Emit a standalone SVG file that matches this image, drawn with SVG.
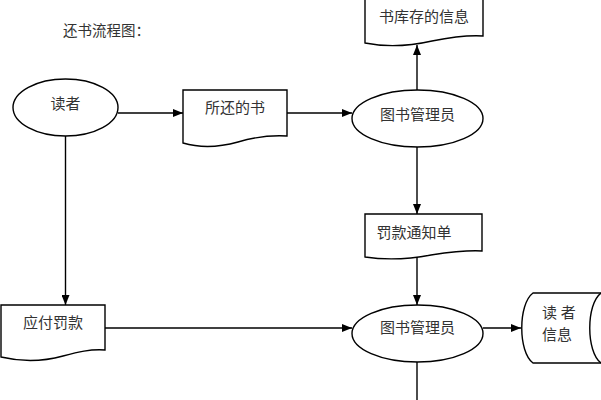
<svg xmlns="http://www.w3.org/2000/svg" width="601" height="400" viewBox="0 0 601 400">
<defs>
<marker id="arr" markerWidth="10" markerHeight="8" refX="10" refY="4" orient="auto" markerUnits="userSpaceOnUse">
<path d="M0,0 L10,4 L0,8 Z" fill="#000"/>
</marker>
<style>
.shape{fill:#fff;stroke:#000;stroke-width:1.4}
.line{fill:none;stroke:#000;stroke-width:1.4}
text{font-family:"Liberation Serif","Noto Sans CJK SC",serif;font-size:15px;fill:#333}
.c{text-anchor:middle}
</style>
</defs>
<rect width="601" height="400" fill="#fff"/>
<text id="title" x="63" y="36" style="font-size:14.5px">还书流程图：</text>
<g id="connectors">
<line class="line" x1="118" y1="113" x2="183" y2="113" marker-end="url(#arr)"/>
<line class="line" x1="287" y1="113" x2="352" y2="113" marker-end="url(#arr)"/>
<line class="line" x1="417" y1="90" x2="417" y2="45" marker-end="url(#arr)"/>
<line class="line" x1="417" y1="147" x2="417" y2="214" marker-end="url(#arr)"/>
<line class="line" x1="417" y1="257" x2="417" y2="305" marker-end="url(#arr)"/>
<line class="line" x1="65.5" y1="136" x2="65.5" y2="305" marker-end="url(#arr)"/>
<line class="line" x1="105" y1="328" x2="352" y2="328" marker-end="url(#arr)"/>
<line class="line" x1="483" y1="328" x2="521" y2="328" marker-end="url(#arr)"/>
<line class="line" x1="417" y1="362" x2="417" y2="400"/>
</g>
<g id="reader">
<ellipse class="shape" cx="65.5" cy="107.5" rx="52.5" ry="28.5"/>
<text class="c" x="65.5" y="109">读者</text>
</g>
<g id="returned-books">
<path class="shape" d="M183,90 H287 V136 C270,135 255,137 238,142 C220,147 200,148 183,143 Z"/>
<text class="c" x="235" y="113">所还的书</text>
</g>
<g id="librarian1">
<ellipse class="shape" cx="417.5" cy="118.5" rx="65.5" ry="28.5"/>
<text class="c" x="417.5" y="120">图书管理员</text>
</g>
<g id="stock-info">
<path class="shape" d="M365,-1 H483 V36 C467,35 452,37 432,41 C410,46 385,47 365,43 Z"/>
<text class="c" x="424" y="22">书库存的信息</text>
</g>
<g id="fine-notice">
<path class="shape" d="M365,214 H482 V251 C466,250 451,252 431,255 C410,259 385,260 365,257 Z"/>
<text class="c" x="414" y="238">罚款通知单</text>
</g>
<g id="fine-due">
<path class="shape" d="M1,305 H105 V350 C90,349 78,352 63,356 C45,361 22,362 1,357 Z"/>
<text class="c" x="53" y="328">应付罚款</text>
</g>
<g id="librarian2">
<ellipse class="shape" cx="417.5" cy="333.5" rx="65.5" ry="28.5"/>
<text class="c" x="417.5" y="333">图书管理员</text>
</g>
<g id="reader-info">
<path class="shape" d="M533,293 H603 V363 H533 C518,352 518,304 533,293 Z"/>
<path class="line" d="M601,293 C586,304 586,352 601,363"/>
<text x="542" y="318">读 者</text>
<text x="542" y="340">信息</text>
</g>
</svg>
